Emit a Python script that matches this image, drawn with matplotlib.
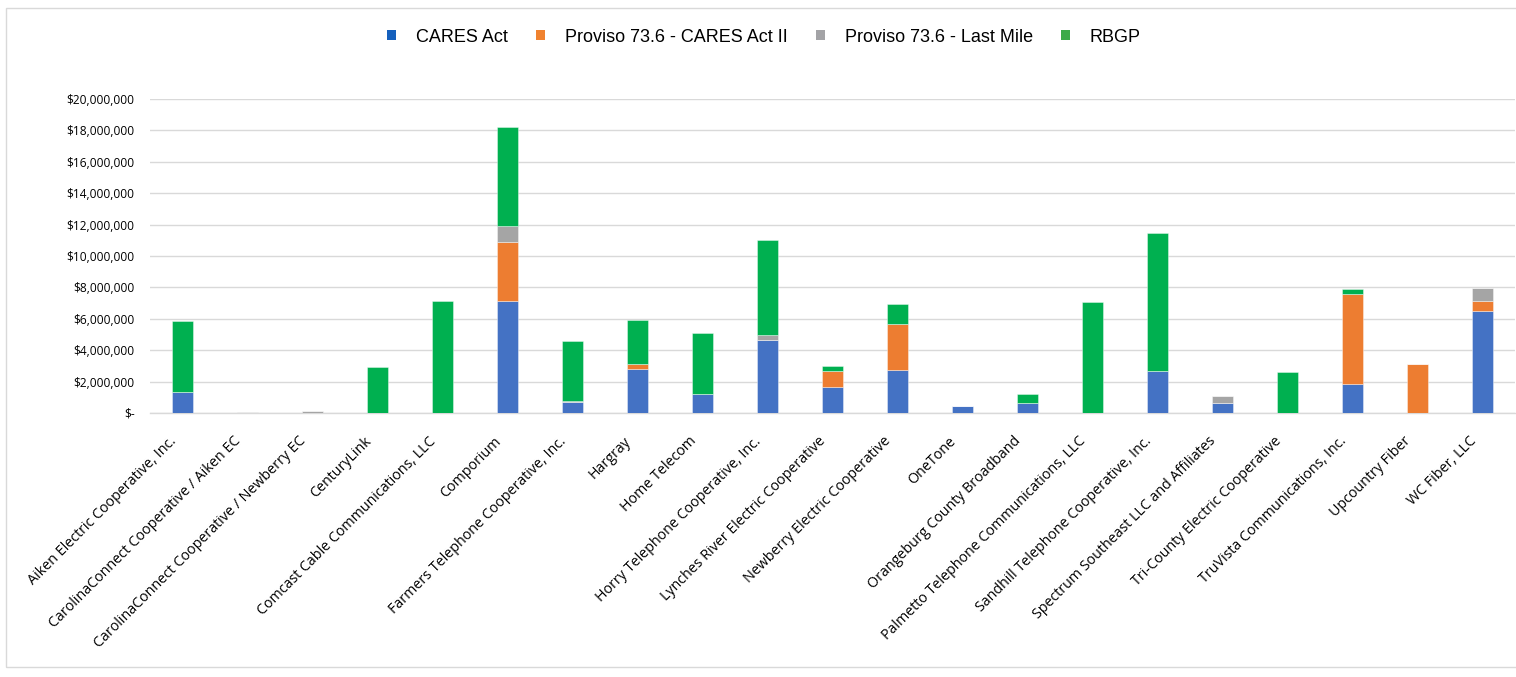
import numpy as np
import matplotlib.pyplot as plt
from matplotlib.patches import Patch, Rectangle
from matplotlib.ticker import FuncFormatter

providers = [
    "Aiken Electric Cooperative, Inc.",
    "CarolinaConnect Cooperative / Aiken EC",
    "CarolinaConnect Cooperative / Newberry EC",
    "CenturyLink",
    "Comcast Cable Communications, LLC",
    "Comporium",
    "Farmers Telephone Cooperative, Inc.",
    "Hargray",
    "Home Telecom",
    "Horry Telephone Cooperative, Inc.",
    "Lynches River Electric Cooperative",
    "Newberry Electric Cooperative",
    "OneTone",
    "Orangeburg County Broadband",
    "Palmetto Telephone Communications, LLC",
    "Sandhill Telephone Cooperative, Inc.",
    "Spectrum Southeast LLC and Affiliates",
    "Tri-County Electric Cooperative",
    "TruVista Communications, Inc.",
    "Upcountry Fiber",
    "WC Fiber, LLC",
]

# award amounts in dollars
cares_act = [1360000, 0, 0, 0, 0, 7120000, 700000, 2800000, 1210000, 4680000, 1650000,
             2730000, 440000, 620000, 0, 2650000, 660000, 0, 1850000, 0, 6470000]
cares_act_ii = [0, 0, 0, 0, 0, 3800000, 0, 320000, 0, 0, 1000000,
                2950000, 0, 0, 0, 0, 0, 0, 5750000, 3130000, 640000]
last_mile = [0, 40000, 140000, 0, 0, 980000, 80000, 0, 0, 260000, 0,
             0, 0, 0, 0, 0, 420000, 0, 0, 0, 850000]
rbgp = [4510000, 0, 0, 2960000, 7160000, 6310000, 3800000, 2820000, 3880000, 6060000, 340000,
        1250000, 0, 610000, 7060000, 8800000, 0, 2590000, 270000, 0, 0]

series_names = ["CARES Act", "Proviso 73.6 - CARES Act II", "Proviso 73.6 - Last Mile", "RBGP"]
bar_colors = ["#4472C4", "#ED7D31", "#A5A5A5", "#00B050"]
legend_colors = ["#1560BD", "#F0822F", "#A3A3A6", "#3CAA48"]

W, H = 1516, 677
fig = plt.figure(figsize=(W / 100, H / 100), dpi=100)
ax = fig.add_axes([150 / W, 1 - 413 / H, (1515 - 150) / W, (413 - 99) / H])

# outer chart frame
fig.patches.append(Rectangle((6 / W, 1 - 667 / H), 1.2, (667 - 8) / H,
                             transform=fig.transFigure, fill=False,
                             edgecolor="#d9d9d9", linewidth=1.0))

x = np.arange(len(providers))
bottom = np.zeros(len(providers))
for name, vals, col in zip(series_names, [cares_act, cares_act_ii, last_mile, rbgp], bar_colors):
    vals = np.array(vals, dtype=float)
    ax.bar(x, vals, 0.31, bottom=bottom, color=col, edgecolor=(1, 1, 1, 0.45),
           linewidth=0.6, label=name, zorder=3)
    bottom += vals

ax.set_xlim(-0.5, len(providers) - 0.5)
ax.set_ylim(0, 20000000)
ax.set_yticks(np.arange(0, 20000001, 2000000))
ax.yaxis.set_major_formatter(FuncFormatter(lambda v, p: "$-" if v == 0 else f"${v:,.0f}"))
ax.grid(axis="y", color="#d9d9d9", linewidth=1.0, zorder=0)
for s in ["top", "right", "left"]:
    ax.spines[s].set_visible(False)
ax.spines["bottom"].set_color("#d9d9d9")
ax.spines["bottom"].set_linewidth(1.0)
ax.tick_params(axis="both", length=0)
ax.tick_params(axis="y", pad=11)

for lbl in ax.get_yticklabels():
    lbl.set_fontfamily("Open Sans")
    lbl.set_fontsize(8.6)

# category labels, end of text just below-left of each bar
ax.set_xticks(x)
ax.set_xticklabels([])
for i, name in enumerate(providers):
    ax.annotate(name, xy=(i, 0), xycoords=("data", "axes fraction"),
                xytext=(-10, -15), textcoords="offset points",
                rotation=45, ha="right", va="top", rotation_mode="anchor",
                fontfamily="Open Sans", fontsize=10.3)

handles = [Patch(facecolor=c, edgecolor="none") for c in legend_colors]
fig.legend(handles, series_names, loc="center", bbox_to_anchor=(0.504, 1 - 37 / H),
           ncol=4, frameon=False, prop={"family": "Liberation Sans", "size": 13},
           handlelength=0.5, handleheight=0.5, handletextpad=1.1, columnspacing=1.55)

fig.savefig("out.png", dpi=100)
